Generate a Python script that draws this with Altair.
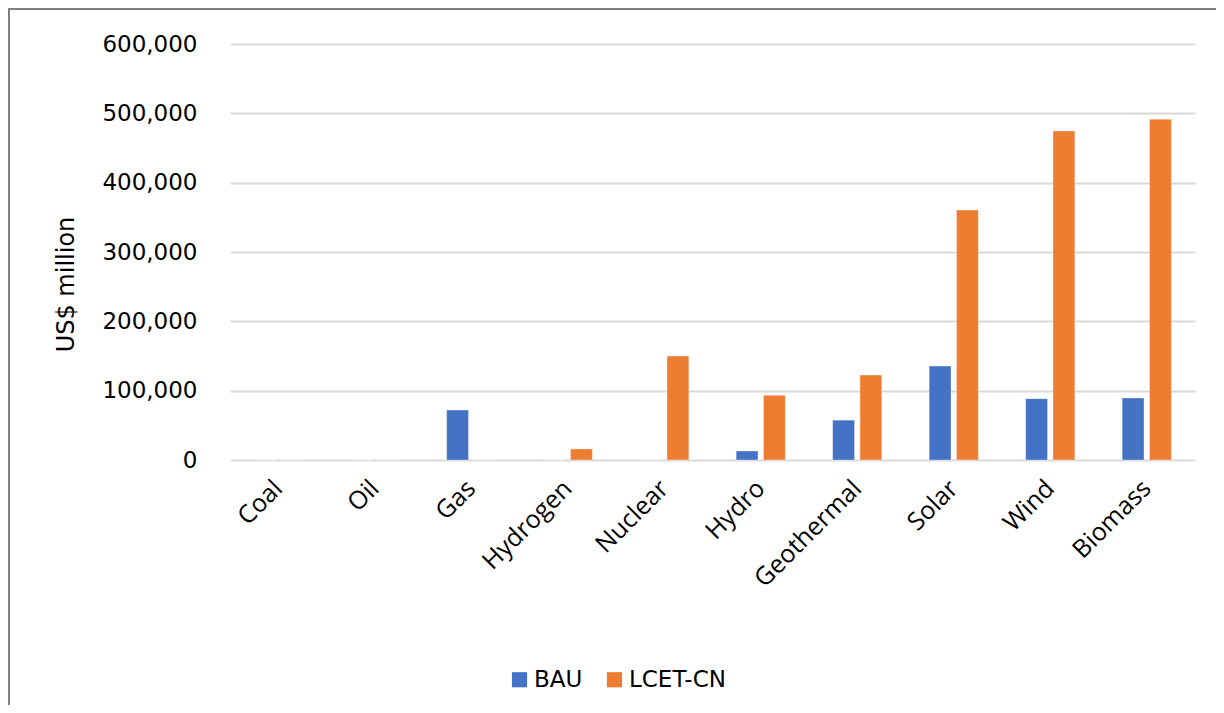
import altair as alt
import pandas as pd

categories = ["Coal", "Oil", "Gas", "Hydrogen", "Nuclear", "Hydro", "Geothermal", "Solar", "Wind", "Biomass"]
bau = [0, 0, 72000, 0, 0, 13000, 57500, 135500, 88500, 89500]
lcet = [0, 0, 0, 16000, 150000, 93500, 122500, 360500, 474500, 491500]
series = ["BAU", "LCET-CN"]
colors = ["#4472C4", "#ED7D31"]

rows = []
for c, b, l in zip(categories, bau, lcet):
    rows.append({"cat": c, "series": "BAU", "value": b})
    rows.append({"cat": c, "series": "LCET-CN", "value": l})
df = pd.DataFrame(rows)

W, H = 965, 416
YFONT = "DejaVu Sans"
XFONT = "Open Sans"

frame = alt.Chart(pd.DataFrame({"a": [0]})).mark_rect(
    fill="transparent", stroke="#7f7f7f", strokeWidth=2
).encode(
    x=alt.value(-221), x2=alt.value(W + 40),
    y=alt.value(-35), y2=alt.value(H + 300)
)

bars = alt.Chart(df).mark_bar(stroke="white", strokeOpacity=0.35, strokeWidth=1).encode(
    x=alt.X("cat:N", sort=categories,
            scale=alt.Scale(paddingInner=0.49, paddingOuter=0.245),
            axis=alt.Axis(title=None, labelAngle=-45, labelAlign="right", labelBaseline="middle",
                          labelPadding=24, ticks=False, domain=False, labelFontSize=25,
                          labelFont=XFONT, labelColor="#000000")),
    xOffset=alt.XOffset("series:N", sort=series, scale=alt.Scale(paddingInner=0.2)),
    y=alt.Y("value:Q", scale=alt.Scale(domain=[0, 600000], nice=False),
            axis=alt.Axis(title="US$ million", values=[0, 100000, 200000, 300000, 400000, 500000, 600000],
                          format=",d", ticks=False, domain=False, labelPadding=33,
                          labelFontSize=23, labelFont=YFONT, labelColor="#000000",
                          gridColor="#d9d9d9", gridWidth=2,
                          titleFont=YFONT, titleFontSize=24, titleFontWeight="normal",
                          titleColor="#000000", titleAngle=-90, titleX=-164, titleY=240,
                          titleAlign="center", titleBaseline="middle")),
    color=alt.Color("series:N", sort=series,
                    scale=alt.Scale(domain=series, range=colors),
                    legend=alt.Legend(title=None, orient="none", direction="horizontal",
                                      legendX=278, legendY=624, symbolType="square",
                                      symbolSize=230, symbolStrokeWidth=0, labelFontSize=23,
                                      labelFont=YFONT, labelColor="#000000", columnPadding=20,
                                      labelOffset=3, symbolOpacity=1))
)

chart = alt.layer(frame, bars).properties(
    width=W, height=H,
    autosize=alt.AutoSizeParams(type="none"),
    padding={"left": 222, "top": 36, "right": 21, "bottom": 245},
    background="white"
).configure_view(stroke=None)

chart.save("out.html", embed_options={"renderer": "svg", "actions": False})
